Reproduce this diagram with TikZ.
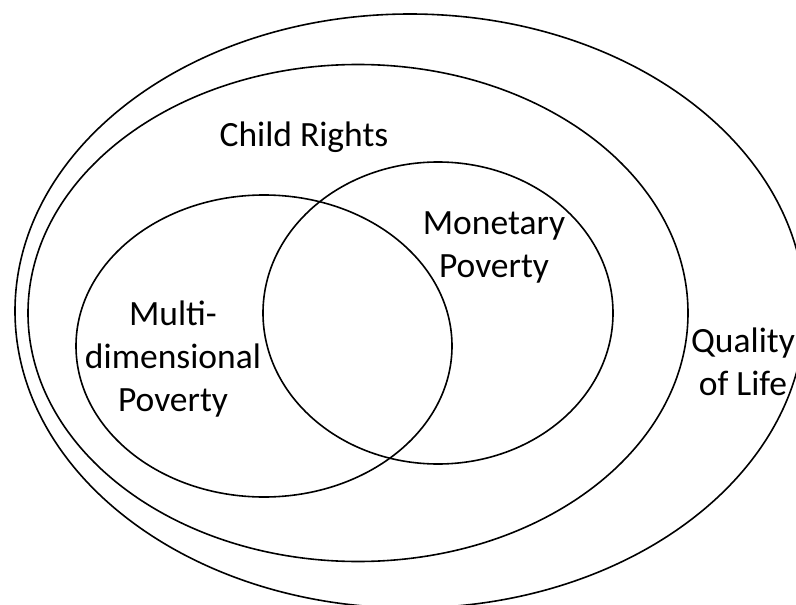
\documentclass[tikz,border=0pt]{standalone}
\usepackage{fontspec}
\setmainfont{Carlito}
\usetikzlibrary{shapes.geometric}
\begin{document}
\begin{tikzpicture}[x=1pt,y=-1pt,
  ring/.style={draw=black, line width=1.6pt, ellipse, inner sep=0pt, fill=none},
  lbl/.style={font=\fontsize{35.5}{43}\selectfont, align=center, inner sep=0pt, text=black}]
\useasboundingbox (0,0) rectangle (796,605);
\fill[white] (0,0) rectangle (796,605);
\clip (0,0) rectangle (796,605);
\node[ring, minimum width=790pt, minimum height=594pt] (qol) at (410,311) {};
\node[ring, minimum width=660pt, minimum height=497pt] (cr) at (358,313) {};
\node[ring, minimum width=376pt, minimum height=302pt] (mdp) at (264,346) {};
\node[ring, minimum width=350pt, minimum height=302pt] (mp) at (438,313) {};
\node[lbl] (tcr) at (304,137) {Child Rights};
\node[lbl] (tmp) at (494,247) {Monetary\\Poverty};
\node[lbl] (tmdp) at (173,359) {Multi-\\dimensional\\Poverty};
\node[lbl] (tqol) at (743,362) {Quality\\of Life};
\end{tikzpicture}
\end{document}
